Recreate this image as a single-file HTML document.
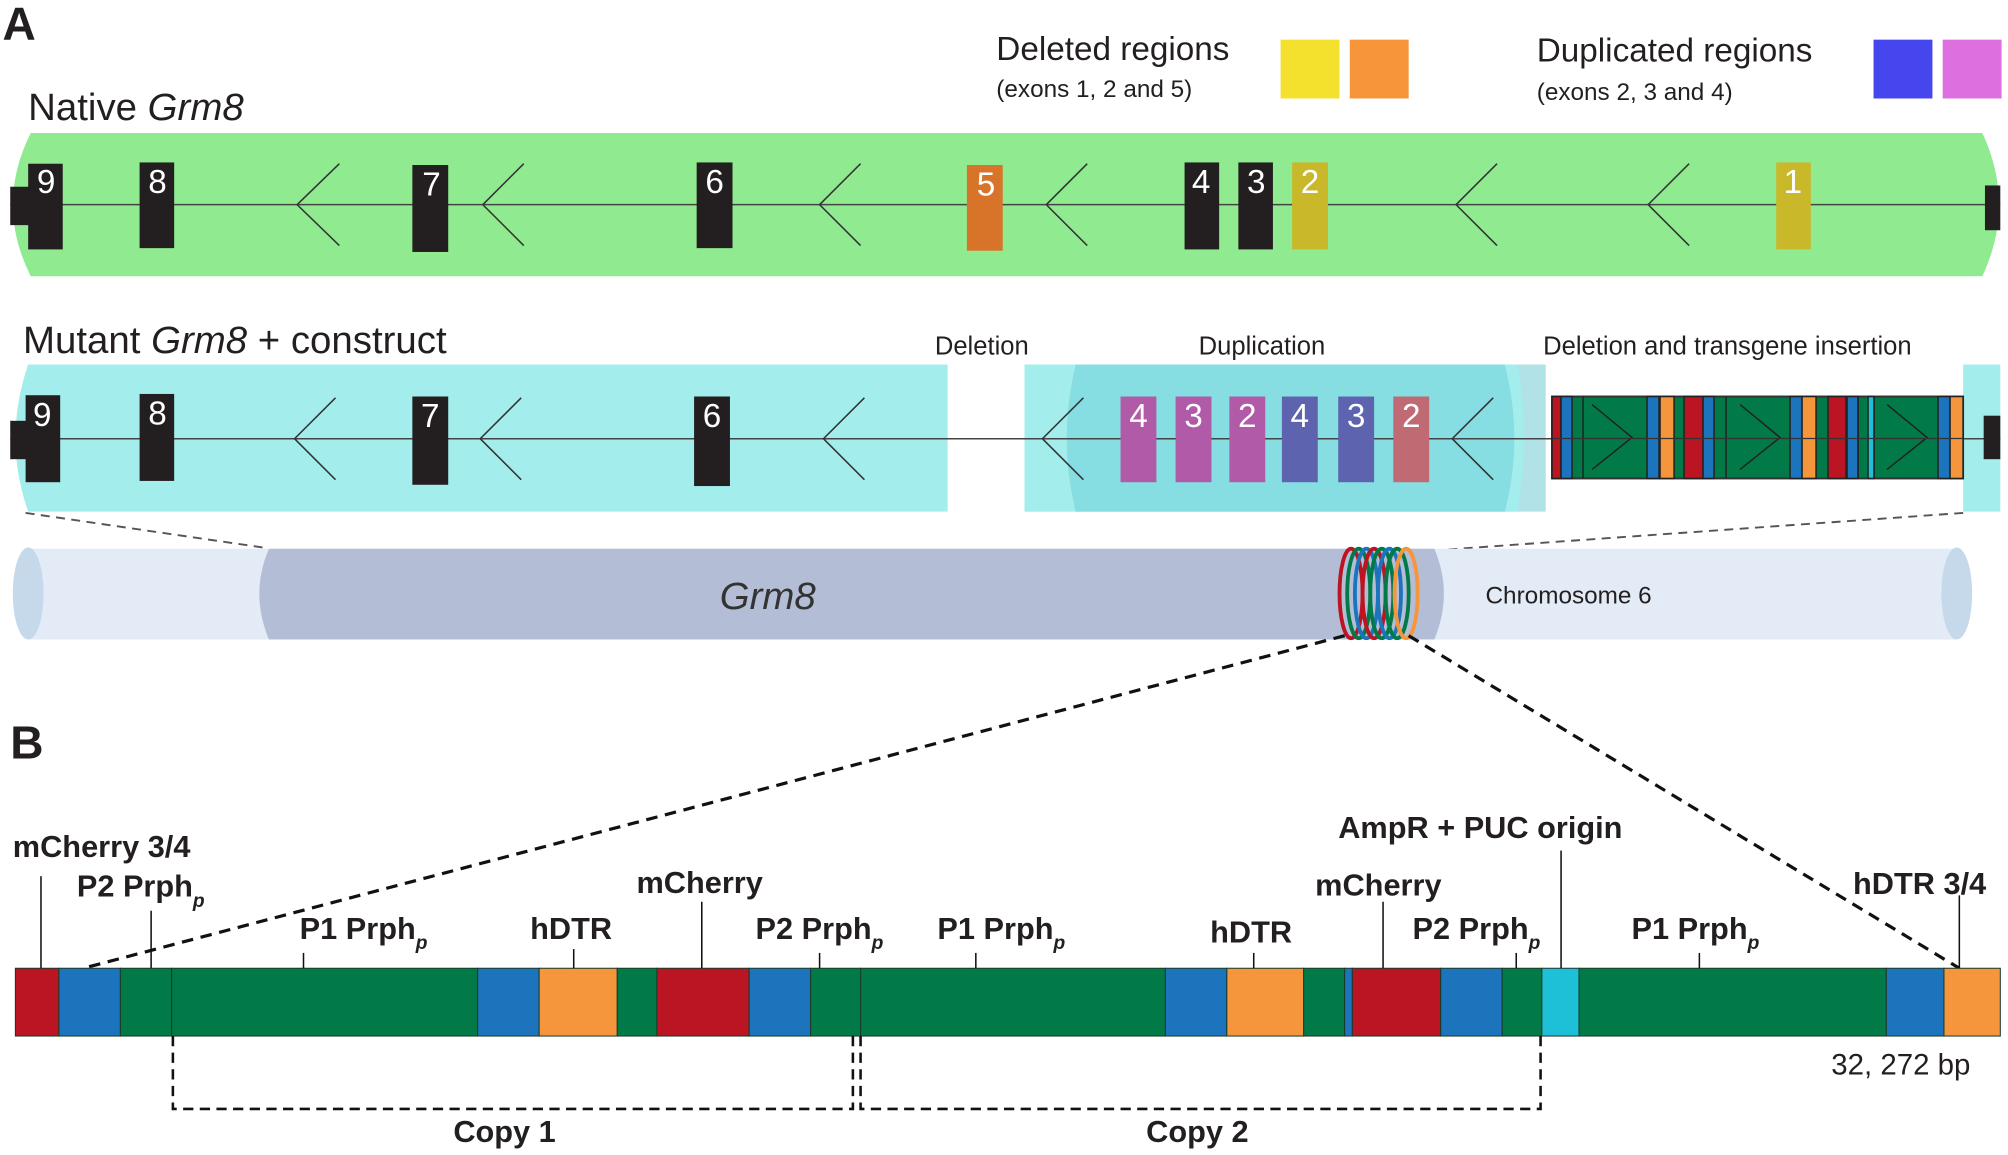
<!DOCTYPE html>
<html><head><meta charset="utf-8"><style>
html,body{margin:0;padding:0;background:#fff;}
svg{display:block}
text{font-family:"Liberation Sans",sans-serif;fill:#231f20}
.b{font-family:"Liberation Sans Narrow","Liberation Sans",sans-serif;font-weight:bold}
.ex{fill:#fff;font-size:26px;text-anchor:middle}
</style></head><body>
<svg width="2008" height="1155" viewBox="0 0 1568 903" preserveAspectRatio="none" xmlns="http://www.w3.org/2000/svg">
<!-- Labels -->
<text x="2" y="31" class="b" style="font-size:36px">A</text>
<text x="8" y="593" class="b" style="font-size:36px">B</text>
<text x="778" y="47" style="font-size:26px">Deleted regions</text>
<text x="778" y="76" style="font-size:19px">(exons 1, 2 and 5)</text>
<rect x="1000" y="31" width="46" height="46" fill="#f4e12e"/>
<rect x="1054" y="31" width="46" height="46" fill="#f7953a"/>
<text x="1200" y="48" style="font-size:26px">Duplicated regions</text>
<text x="1200" y="78" style="font-size:19px">(exons 2, 3 and 4)</text>
<rect x="1463" y="31" width="46" height="46" fill="#4646ee"/>
<rect x="1517" y="31" width="46" height="46" fill="#de6fde"/>
<text x="22" y="94" style="font-size:30px">Native <tspan font-style="italic">Grm8</tspan></text>
<text x="18" y="276" style="font-size:30px">Mutant <tspan font-style="italic">Grm8</tspan> + construct</text>
<text x="730" y="277" style="font-size:20px">Deletion</text>
<text x="936" y="277" style="font-size:20px">Duplication</text>
<text x="1205" y="277" style="font-size:20px">Deletion and transgene insertion</text>

<!-- Native -->
<path d="M24,104 H1548 Q1574,160 1548,216 H24 Q-4,160 24,104Z" fill="#90eb90"/>
<line x1="8" y1="160" x2="1562" y2="160" stroke="#444" stroke-width="1.2"/>
<g fill="none" stroke="#333" stroke-width="1.2">
<path d="M265,128 L232,160 L265,192"/><path d="M409,128 L377,160 L409,192"/><path d="M672,128 L640,160 L672,192"/><path d="M849,128 L817,160 L849,192"/><path d="M1169,128 L1137,160 L1169,192"/><path d="M1319,128 L1287,160 L1319,192"/>
</g>
<rect x="8" y="146" width="16" height="30" fill="#231f20"/>
<rect x="22" y="128" width="27" height="67" fill="#231f20"/><text class="ex" x="36" y="151">9</text>
<rect x="109" y="127" width="27" height="67" fill="#231f20"/><text class="ex" x="123" y="151">8</text>
<rect x="322" y="129" width="28" height="68" fill="#231f20"/><text class="ex" x="337" y="153">7</text>
<rect x="544" y="127" width="28" height="67" fill="#231f20"/><text class="ex" x="558" y="151">6</text>
<rect x="755" y="129" width="28" height="67" fill="#d8732a"/><text class="ex" x="770" y="153">5</text>
<rect x="925" y="127" width="27" height="68" fill="#231f20"/><text class="ex" x="938" y="151">4</text>
<rect x="967" y="127" width="27" height="68" fill="#231f20"/><text class="ex" x="981" y="151">3</text>
<rect x="1009" y="127" width="28" height="68" fill="#c8b82a"/><text class="ex" x="1023" y="151">2</text>
<rect x="1387" y="127" width="27" height="68" fill="#c8b82a"/><text class="ex" x="1400" y="151">1</text>
<rect x="1550" y="145" width="12" height="35" fill="#231f20"/>

<!-- Mutant -->
<path d="M22,285 H740 V400 H22 Q2,343 22,285Z" fill="#a3eded"/>
<rect x="800" y="285" width="407" height="115" fill="#b0e2e8"/>
<path d="M800,285 H1185 Q1195,343 1185,400 H800Z" fill="#a3eded"/>
<path d="M840,285 H1175 Q1190,343 1175,400 H840 Q826,343 840,285Z" fill="#86dde2"/>
<rect x="1533" y="285" width="29" height="115" fill="#a3eded"/>
<line x1="8" y1="343" x2="1562" y2="343" stroke="#444" stroke-width="1.2"/>
<g fill="none" stroke="#333" stroke-width="1.2">
<path d="M262,311 L230,343 L262,375"/><path d="M407,311 L375,343 L407,375"/><path d="M675,311 L643,343 L675,375"/><path d="M846,311 L814,343 L846,375"/><path d="M1166,311 L1134,343 L1166,375"/>
</g>
<rect x="8" y="329" width="14" height="30" fill="#231f20"/>
<rect x="20" y="309" width="27" height="68" fill="#231f20"/><text class="ex" x="33" y="333">9</text>
<rect x="109" y="308" width="27" height="68" fill="#231f20"/><text class="ex" x="123" y="332">8</text>
<rect x="322" y="310" width="28" height="69" fill="#231f20"/><text class="ex" x="336" y="334">7</text>
<rect x="542" y="310" width="28" height="70" fill="#231f20"/><text class="ex" x="556" y="334">6</text>
<rect x="875" y="310" width="28" height="67" fill="#b05aa8"/><text class="ex" x="889" y="334">4</text>
<rect x="918" y="310" width="28" height="67" fill="#b05aa8"/><text class="ex" x="932" y="334">3</text>
<rect x="960" y="310" width="28" height="67" fill="#b05aa8"/><text class="ex" x="974" y="334">2</text>
<rect x="1001" y="310" width="28" height="67" fill="#5d63ae"/><text class="ex" x="1015" y="334">4</text>
<rect x="1045" y="310" width="28" height="67" fill="#5d63ae"/><text class="ex" x="1059" y="334">3</text>
<rect x="1088" y="310" width="28" height="67" fill="#c06a74"/><text class="ex" x="1102" y="334">2</text>
<rect x="1549" y="325" width="13" height="34" fill="#231f20"/>
<!-- transgene bar in real coords -->
<g transform="scale(0.7809)">
<rect x="1552" y="397" width="411" height="82" fill="#017a47" stroke="#333" stroke-width="2"/>
<g stroke="#222" stroke-width="1.5">
<rect x="1552" y="397" width="9" height="82" fill="#bb1422"/>
<rect x="1561" y="397" width="11" height="82" fill="#1c74bc"/>
<rect x="1647" y="397" width="12" height="82" fill="#1c74bc"/>
<rect x="1660" y="397" width="14" height="82" fill="#f5963d"/>
<rect x="1684" y="397" width="19" height="82" fill="#bb1422"/>
<rect x="1703" y="397" width="11" height="82" fill="#1c74bc"/>
<rect x="1790" y="397" width="12" height="82" fill="#1c74bc"/>
<rect x="1802" y="397" width="14" height="82" fill="#f5963d"/>
<rect x="1828" y="397" width="18" height="82" fill="#bb1422"/>
<rect x="1847" y="397" width="11" height="82" fill="#1c74bc"/>
<rect x="1868" y="397" width="6" height="82" fill="#1ec0d8"/>
<rect x="1938" y="397" width="12" height="82" fill="#1c74bc"/>
<rect x="1950" y="397" width="13" height="82" fill="#f5963d"/>
<line x1="1583" y1="397" x2="1583" y2="479"/><line x1="1726" y1="397" x2="1726" y2="479"/><line x1="1858" y1="397" x2="1858" y2="479"/><line x1="1874" y1="397" x2="1874" y2="479"/>
</g>
<g fill="none" stroke="#222" stroke-width="1.5">
<path d="M1592,405 L1632,438 L1592,470"/><path d="M1740,405 L1780,438 L1740,470"/><path d="M1887,405 L1927,438 L1887,470"/>
</g>
<line x1="1552" y1="439" x2="1963" y2="439" stroke="#333" stroke-width="1.2"/>
</g>

<!-- chromosome -->
<line x1="20" y1="401" x2="205" y2="428" stroke="#555" stroke-width="1.5" stroke-dasharray="7,5"/>
<line x1="1533" y1="401" x2="1125" y2="430" stroke="#555" stroke-width="1.5" stroke-dasharray="7,5"/>
<rect x="22" y="429" width="1506" height="71" fill="#e2ebf6"/>
<ellipse cx="1528" cy="464" rx="12" ry="36" fill="#c6d9ea"/>
<ellipse cx="22" cy="464" rx="12" ry="36" fill="#c6d9ea"/>
<path d="M210,429 H1120 Q1135,464 1120,500 H210 Q195,464 210,429Z" fill="#b4bdd6"/>
<g fill="none" stroke-width="3">
<ellipse cx="1055" cy="464" rx="9" ry="35" stroke="#bb1422"/>
<ellipse cx="1061" cy="464" rx="9" ry="35" stroke="#017a47"/>
<ellipse cx="1067" cy="464" rx="9" ry="35" stroke="#1c74bc"/>
<ellipse cx="1073" cy="464" rx="9" ry="35" stroke="#bb1422"/>
<ellipse cx="1079" cy="464" rx="9" ry="35" stroke="#017a47"/>
<ellipse cx="1085" cy="464" rx="9" ry="35" stroke="#1c74bc"/>
<ellipse cx="1091" cy="464" rx="9" ry="35" stroke="#017a47"/>
<ellipse cx="1098" cy="464" rx="9" ry="35" stroke="#f5963d"/>
</g>
<text x="562" y="476" style="font-size:30px;font-style:italic;fill:#333">Grm8</text>
<text x="1160" y="472" style="font-size:19px">Chromosome 6</text>
<line x1="1050" y1="497" x2="65" y2="757" stroke="#111" stroke-width="2.5" stroke-dasharray="9,6"/>
<line x1="1100" y1="497" x2="1530" y2="757" stroke="#111" stroke-width="2.5" stroke-dasharray="9,6"/>

<!-- B bar -->
<g stroke="#1a3a2a" stroke-width="0.8">
<rect x="12" y="757" width="34" height="53" fill="#bb1422"/>
<rect x="46" y="757" width="48" height="53" fill="#1c74bc"/>
<rect x="94" y="757" width="40" height="53" fill="#017a47"/>
<rect x="134" y="757" width="239" height="53" fill="#017a47"/>
<rect x="373" y="757" width="48" height="53" fill="#1c74bc"/>
<rect x="421" y="757" width="61" height="53" fill="#f5963d"/>
<rect x="482" y="757" width="31" height="53" fill="#017a47"/>
<rect x="513" y="757" width="72" height="53" fill="#bb1422"/>
<rect x="585" y="757" width="48" height="53" fill="#1c74bc"/>
<rect x="633" y="757" width="39" height="53" fill="#017a47"/>
<rect x="672" y="757" width="238" height="53" fill="#017a47"/>
<rect x="910" y="757" width="48" height="53" fill="#1c74bc"/>
<rect x="958" y="757" width="60" height="53" fill="#f5963d"/>
<rect x="1018" y="757" width="32" height="53" fill="#017a47"/>
<rect x="1050" y="757" width="6" height="53" fill="#1c74bc"/>
<rect x="1056" y="757" width="69" height="53" fill="#bb1422"/>
<rect x="1125" y="757" width="48" height="53" fill="#1c74bc"/>
<rect x="1173" y="757" width="31" height="53" fill="#017a47"/>
<rect x="1204" y="757" width="29" height="53" fill="#1ec0d8"/>
<rect x="1233" y="757" width="240" height="53" fill="#017a47"/>
<rect x="1473" y="757" width="45" height="53" fill="#1c74bc"/>
<rect x="1518" y="757" width="44" height="53" fill="#f5963d"/>
</g>
<g stroke="#111" stroke-width="1.2">
<line x1="32" y1="685" x2="32" y2="757"/><line x1="118" y1="712" x2="118" y2="757"/>
<line x1="237" y1="745" x2="237" y2="757"/><line x1="448" y1="742" x2="448" y2="757"/>
<line x1="548" y1="705" x2="548" y2="757"/><line x1="640" y1="745" x2="640" y2="757"/>
<line x1="762" y1="745" x2="762" y2="757"/><line x1="979" y1="745" x2="979" y2="757"/>
<line x1="1080" y1="705" x2="1080" y2="757"/><line x1="1184" y1="745" x2="1184" y2="757"/>
<line x1="1219" y1="665" x2="1219" y2="757"/><line x1="1327" y1="745" x2="1327" y2="757"/>
<line x1="1530" y1="700" x2="1530" y2="757"/>
</g>
<g class="b" style="font-size:24px">
<text x="10" y="670" class="b">mCherry 3/4</text>
<text x="60" y="701" class="b">P2 Prph<tspan dy="8" font-size="15" font-style="italic">p</tspan></text>
<text x="234" y="734" class="b">P1 Prph<tspan dy="8" font-size="15" font-style="italic">p</tspan></text>
<text x="414" y="734" class="b">hDTR</text>
<text x="497" y="698" class="b">mCherry</text>
<text x="590" y="734" class="b">P2 Prph<tspan dy="8" font-size="15" font-style="italic">p</tspan></text>
<text x="732" y="734" class="b">P1 Prph<tspan dy="8" font-size="15" font-style="italic">p</tspan></text>
<text x="945" y="737" class="b">hDTR</text>
<text x="1027" y="700" class="b">mCherry</text>
<text x="1103" y="734" class="b">P2 Prph<tspan dy="8" font-size="15" font-style="italic">p</tspan></text>
<text x="1045" y="655" class="b">AmpR + PUC origin</text>
<text x="1274" y="734" class="b">P1 Prph<tspan dy="8" font-size="15" font-style="italic">p</tspan></text>
<text x="1447" y="699" class="b">hDTR 3/4</text>
<text x="354" y="893" class="b">Copy 1</text>
<text x="895" y="893" class="b">Copy 2</text>
</g>
<text x="1430" y="840" style="font-size:23px">32, 272 bp</text>
<g fill="none" stroke="#111" stroke-width="2" stroke-dasharray="8,5">
<path d="M135,810 V867 H666 V810"/>
<path d="M672,810 V867 H1203 V810"/>
</g>
</svg>
</body></html>
